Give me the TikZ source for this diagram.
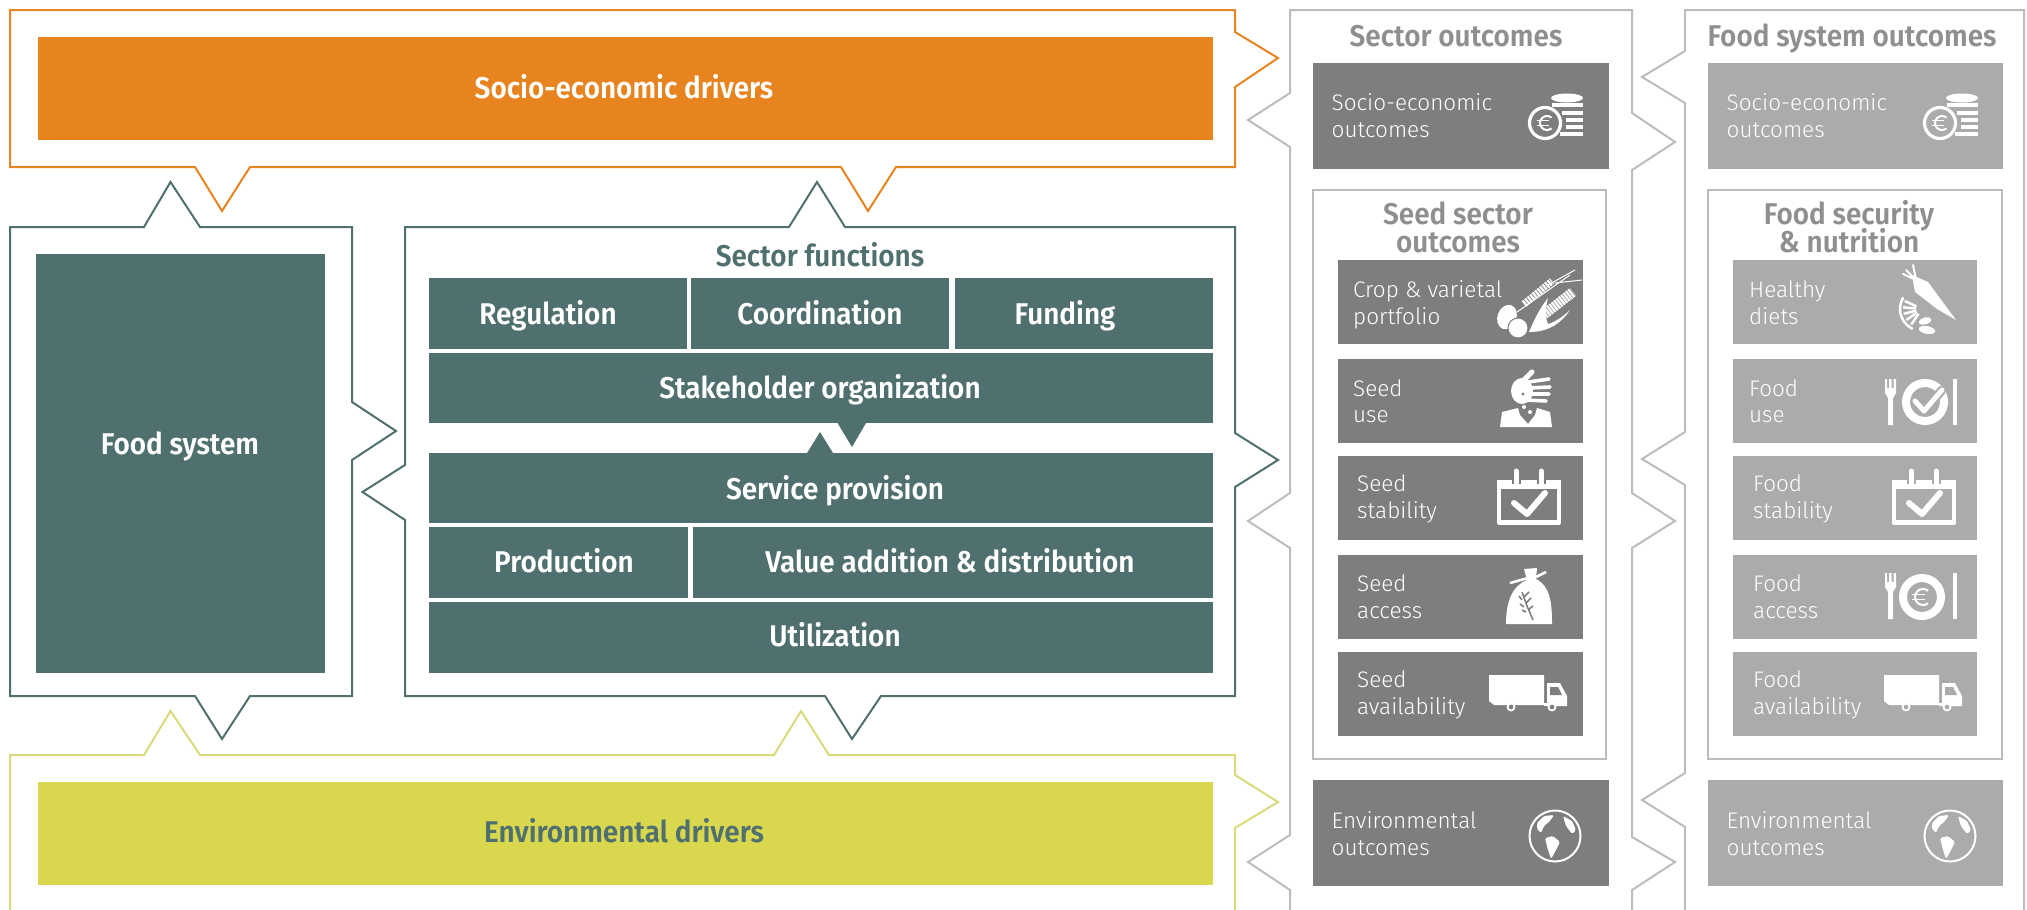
\documentclass[tikz,border=0pt]{standalone}
\usepackage{fontspec}
\setmainfont{Fira Sans}[UprightFont=* Light,BoldFont=* SemiBold,BoldFeatures={FakeStretch=0.93}]
\definecolor{cteal}{HTML}{4F706E}
\definecolor{corange}{HTML}{E8841F}
\definecolor{cyellow}{HTML}{D8D74E}
\definecolor{cyline}{HTML}{DADA7C}
\definecolor{cdark}{HTML}{7E7E7E}
\definecolor{clight}{HTML}{ABABAB}
\definecolor{cline}{HTML}{BCBCBC}
\definecolor{chead}{HTML}{8F8F8F}
\tikzset{
  outline/.style={line width=2pt,line join=miter,miter limit=10},
  box/.style={draw=none,inner sep=0pt,outer sep=0pt,rectangle},
  head/.style={font=\bfseries\fontsize{30}{30}\selectfont,anchor=base,yshift=-10pt,inner sep=0pt},
  subhead/.style={head,text=chead},
  itemtext/.style={font=\fontsize{22.5}{22.5}\selectfont,anchor=base west,yshift=-7.7pt,inner sep=0pt,text=white},
}
% name, fill, x1, y1, x2, y2
\newcommand{\rectnode}[6]{%
  \pgfmathsetmacro\cxx{(#3+#5)/2}\pgfmathsetmacro\cyy{(#4+#6)/2}%
  \node[box,fill=#2,minimum width={(#5-#3)*1pt},minimum height={(#6-#4)*1pt}] (#1) at (\cxx,\cyy) {};}
% centre x, centre y, radius
\newcommand{\myeuro}[3]{%
  \draw[white,line width=2pt] (#1,#2) ++(50:#3) arc[start angle=50,end angle=310,radius=#3];
  \draw[white,line width=1.6pt] (#1-#3-3,#2-2.5) -- (#1+#3*0.3,#2-2.5) (#1-#3-3,#2+2.5) -- (#1+#3*0.3,#2+2.5);}
\newcommand{\iconcoins}{%
  \draw[white,line width=3.2pt] (1545,123) circle[radius=15.5];
  \myeuro{1547}{123}{7}
  \fill[white] (1567,98) ellipse[x radius=16,y radius=4.5];
  \draw[white,line width=4pt] (1552,105) -- (1583,105) (1562,112.5) -- (1583,112.5) (1566,120) -- (1583,120) (1566,127) -- (1583,127) (1560,134) -- (1583,134);}
\newcommand{\iconcal}[1]{%
  \draw[white,line width=4.2pt,line join=round] (1499,482) rectangle (1559,522.5);
  \fill[white] (1497,480) rectangle (1561,489);
  \foreach \tx in {1516,1541}{\draw[#1,line width=9pt] (\tx,472) -- (\tx,484);
    \draw[white,line width=5pt,line cap=round] (\tx,471) -- (\tx,483);}
  \draw[white,line width=6pt,line cap=round,line join=round] (1514,503) -- (1527,514) -- (1545,493);}
\newcommand{\icontruck}[1]{%
  \fill[white] (1489,675) -- (1544,675) -- (1544,705) -- (1494,705) -- (1489,701) -- cycle;
  \fill[white] (1544,703) rectangle (1567,706);
  \fill[white] (1547,683) -- (1560,683) -- (1567,696) -- (1567,706) -- (1547,706) -- cycle;
  \fill[#1] (1550,687) -- (1558,687) -- (1562,695) -- (1550,695) -- cycle;
  \draw[white,line width=1.8pt,fill=#1] (1511,707) circle[radius=3.5] (1552,707) circle[radius=3.5];}
\newcommand{\iconglobe}{%
  \draw[white,line width=2pt] (1555,836) circle[radius=25.5];
  \fill[white,rounded corners=1.5pt] (1537,823) -- (1544,816) -- (1554,815) -- (1550,821) -- (1544,826) -- (1541,833) -- (1537,829) -- cycle;
  \fill[white,rounded corners=1.5pt] (1545,838) -- (1553,836) -- (1560,842) -- (1556,850) -- (1551,859) -- (1548,850) -- cycle;
  \fill[white,rounded corners=1.5pt] (1563,816) -- (1572,821) -- (1576,830) -- (1572,834) -- (1566,826) -- cycle;}
\newcommand{\iconfork}[1]{%
  \fill[white] (1885,#1) -- (1887,#1) -- (1887,#1+9) -- (1889,#1+9) -- (1889,#1) -- (1891.5,#1) -- (1891.5,#1+9) -- (1893.5,#1+9) -- (1893.5,#1) -- (1896,#1) -- (1896,#1+14) -- (1893,#1+19) -- (1893,#1+46) -- (1888,#1+46) -- (1888,#1+19) -- (1885,#1+14) -- cycle;
  \fill[white] (1953,#1) -- (1957,#1) -- (1957,#1+46) -- (1953,#1+46) -- cycle;}
\begin{document}
\begin{tikzpicture}[x=1pt,y=-1pt]
\useasboundingbox (0,0) rectangle (2027,910);
\fill[white] (0,0) rectangle (2027,910);
% ---- outlines
\draw[outline,corange] (10,10) -- (1235,10) -- (1235,32) -- (1278,58) -- (1235,87) -- (1235,167)
  -- (896,167) -- (868,211) -- (841,167) -- (250,167) -- (222,211) -- (195,167) -- (10,167) -- cycle;
\draw[outline,cteal] (10,227) -- (144,227) -- (170.5,182) -- (200,227) -- (352,227) -- (352,402) -- (396,431) -- (352,460)
  -- (352,696) -- (250,696) -- (222,739) -- (195,696) -- (10,696) -- cycle;
\draw[outline,cteal] (405,227) -- (789,227) -- (817,182) -- (845,227) -- (1235,227) -- (1235,433) -- (1278,460) -- (1235,487)
  -- (1235,696) -- (881,696) -- (852,739) -- (825,696) -- (405,696) -- (405,520) -- (362.5,492) -- (405,465) -- cycle;
\draw[outline,cyline] (10,910) -- (10,755) -- (144,755) -- (170.5,711) -- (200,755) -- (774,755) -- (801,711) -- (829,755)
  -- (1235,755) -- (1235,775) -- (1278,802) -- (1235,828) -- (1235,910);
\draw[outline,cline] (1290,910) -- (1290,890) -- (1248,862) -- (1290,835) -- (1290,548) -- (1248,521) -- (1290,493)
  -- (1290,147) -- (1248,120) -- (1290,93) -- (1290,10) -- (1632,10) -- (1632,113) -- (1675,142) -- (1632,170)
  -- (1632,493) -- (1675,521) -- (1632,548) -- (1632,837) -- (1675,862) -- (1632,890) -- (1632,910);
\draw[outline,cline] (1685,910) -- (1685,827) -- (1642,800) -- (1685,773) -- (1685,485) -- (1642,459) -- (1685,432)
  -- (1685,103) -- (1642,77) -- (1685,51) -- (1685,10) -- (2024,10) -- (2024,910);
\draw[outline,cline] (1313,190) rectangle (1606,759);
\draw[outline,cline] (1708,190) rectangle (2002,759);
% ---- main boxes
\rectnode{socio}{corange}{37.5}{36.7}{1212.5}{140}
\rectnode{foodsys}{cteal}{36}{254}{325}{673}
\rectnode{reg}{cteal}{428.5}{278}{687}{349}
\rectnode{coord}{cteal}{690.6}{278}{949}{349}
\rectnode{fund}{cteal}{954.5}{278}{1212.5}{349}
\rectnode{stake}{cteal}{428.5}{353}{1212.5}{423}
\rectnode{serv}{cteal}{428.5}{453}{1212.5}{523}
\rectnode{prod}{cteal}{428.5}{527}{687.5}{598}
\rectnode{valadd}{cteal}{693}{527}{1212.5}{598}
\rectnode{util}{cteal}{428.5}{602}{1212.5}{673}
\rectnode{envd}{cyellow}{37.5}{782}{1212.5}{885}
\fill[cteal] (837.5,423) -- (866,423) -- (852,447) -- cycle;
\fill[cteal] (807,453) -- (833,453) -- (820,432) -- cycle;
% ---- main labels
\node[head,text=white] (tsocio) at (624,88) {Socio-economic drivers};
\node[head,text=white] (tfood) at (180,444) {Food system};
\node[head,text=cteal] (tfunc) at (820,256) {Sector functions};
\node[head,text=white] (treg) at (548,314) {Regulation};
\node[head,text=white] (tcoord) at (820,314) {Coordination};
\node[head,text=white] (tfund) at (1065,314) {Funding};
\node[head,text=white] (tstake) at (820,388) {Stakeholder organization};
\node[head,text=white] (tserv) at (835,489) {Service provision};
\node[head,text=white] (tprod) at (564,562) {Production};
\node[head,text=white] (tval) at (950,562) {Value addition \& distribution};
\node[head,text=white] (tutil) at (835,636) {Utilization};
\node[head,text=cteal] (tenv) at (624,832) {Environmental drivers};
% ---- outcomes headers
\node[subhead] (tsec) at (1456,36) {Sector outcomes};
\node[subhead] (tfso) at (1852,36) {Food system outcomes};
\node[subhead] (tss1) at (1458,214) {Seed sector};
\node[subhead] (tss2) at (1458,242) {outcomes};
\node[subhead] (tfs1) at (1849,214) {Food security};
\node[subhead] (tfs2) at (1849,242) {\& nutrition};
% ---- sector outcome boxes
\rectnode{bsocio}{cdark}{1313}{63}{1609}{169}
\rectnode{benv}{cdark}{1313}{780}{1609}{886}
\rectnode{bcrop}{cdark}{1337.5}{260}{1583}{344}
\rectnode{buse}{cdark}{1337.5}{359}{1583}{443}
\rectnode{bstab}{cdark}{1337.5}{456}{1583}{540}
\rectnode{bacc}{cdark}{1337.5}{555}{1583}{639}
\rectnode{bavail}{cdark}{1337.5}{652}{1583}{736}
% ---- food outcome boxes
\rectnode{fsocio}{clight}{1708}{63}{2003}{169}
\rectnode{fenv}{clight}{1708}{780}{2003}{886}
\rectnode{fhealth}{clight}{1732.5}{260}{1977}{344}
\rectnode{fuse}{clight}{1732.5}{359}{1977}{443}
\rectnode{fstab}{clight}{1732.5}{456}{1977}{540}
\rectnode{facc}{clight}{1732.5}{555}{1977}{639}
\rectnode{favail}{clight}{1732.5}{652}{1977}{736}
% ---- item texts
\foreach \nm/\xa/\ya/\txt in {a/1331.5/103/Socio-economic,b/1331.5/130/outcomes,c/1331.5/821/Environmental,d/1331.5/848/outcomes,
  e/1353/290/Crop \& varietal,f/1353/317/portfolio,g/1353/389/Seed,h/1353/415/use,
  i/1357/484/Seed,j/1357/511/stability,k/1357/584/Seed,l/1357/611/access,m/1357/680/Seed,n/1357/707/availability,
  o/1726.5/103/Socio-economic,p/1726.5/130/outcomes,q/1726.5/821/Environmental,r/1726.5/848/outcomes,
  s/1749/290/Healthy,t/1749/317/diets,u/1749/389/Food,v/1749/415/use,
  w/1753/484/Food,x/1753/511/stability,y/1753/584/Food,z/1753/611/access,aa/1753/680/Food,ab/1753/707/availability}
  {\node[itemtext] (item\nm) at (\xa,\ya) {\txt};}
% ---- icons
\iconcoins \iconcal{cdark} \icontruck{cdark} \iconglobe
\begin{scope}[shift={(395,0)}]
\iconcoins \iconcal{clight} \icontruck{clight} \iconglobe
\end{scope}
% crops
\fill[white,rotate around={-20:(1507,317)}] (1507,317) ellipse[x radius=9.5,y radius=12.5];
\draw[cdark,line width=1pt,fill=white] (1518,328) ellipse[x radius=10,y radius=10];
\draw[white,line width=1pt] (1517,312) -- (1570,275) (1548,285) -- (1575,270) (1555,283) -- (1582,280);
\draw[white,line width=7pt,dash pattern=on 2.2pt off 1pt] (1524,304) -- (1552,281);
\draw[white,line width=10pt,dash pattern=on 2.2pt off .8pt] (1542,316) -- (1573,292);
\fill[white] (1529,332) .. controls (1535,318) and (1540,308) .. (1548,298) .. controls (1545,310) and (1545,318) .. (1548,324) .. controls (1556,322) and (1566,314) .. (1570,310) .. controls (1562,322) and (1550,332) .. (1529,332) -- cycle;
% hand and person
\fill[white] (1522,391) ellipse[x radius=11,y radius=13];
\draw[white,line width=5pt,line cap=round] (1522,382) -- (1532,372);
\draw[white,line width=3.6pt,line cap=round] (1528,382) -- (1549,379) (1528,388) -- (1550,387) (1528,394) -- (1549,394) (1526,400) -- (1546,401);
\fill[cdark] (1523,394) circle[radius=1.7];
\fill[white] (1500,427) -- (1502,412) -- (1518,408) -- (1520,415) -- (1528,424) -- (1535,415) -- (1537,408) -- (1550,412) -- (1552,427) -- cycle;
\fill[white] (1524,407) circle[radius=2] (1530,412) circle[radius=2];
% sack
\fill[white] (1506,624) .. controls (1506,602) and (1512,586) .. (1527,580) -- (1524,569) -- (1537,568) -- (1536,579) .. controls (1550,586) and (1552,602) .. (1552,624) -- cycle;
\draw[white,line width=2.5pt] (1528,578) -- (1510,583) (1536,577) -- (1546,572);
\draw[cdark,line width=1.6pt] (1522,592) -- (1527,606) -- (1533,620) (1524,597) -- (1529,592) (1522,600) -- (1519,596) (1526,603) -- (1531,598) (1524,607) -- (1520,604) (1528,610) -- (1533,606) (1526,612) -- (1522,610);
% healthy diets
\fill[white] (1912,275) -- (1915,292) -- (1937,309) -- (1956,320) -- (1928,282) -- cycle;
\draw[white,line width=2pt,line cap=round] (1916,280) -- (1903,274) (1916,280) -- (1913,265) (1916,280) -- (1906,270);
\draw[white,line width=2.5pt] (1922,309) ++(115:22) arc[start angle=115,end angle=212,radius=22];
\foreach \ang in {125,145,165,185,205}{\draw[white,line width=2.5pt] (1922,309) ++(\ang:6) -- ++(\ang:13);}
\draw[clight,line width=1pt,fill=white,rotate around={15:(1925,321)}] (1925,321) ellipse[x radius=7,y radius=4];
\draw[clight,line width=1pt,fill=white,rotate around={-10:(1927,330)}] (1927,330) ellipse[x radius=9,y radius=4.5];
% food use
\iconfork{379}
\draw[white,line width=8pt] (1925,402) circle[radius=19];
\draw[clight,line width=9pt,line cap=round,line join=round] (1915,401) -- (1924,411) -- (1942,390);
\draw[white,line width=5pt,line cap=round,line join=round] (1915,401) -- (1924,411) -- (1942,390);
% food access
\iconfork{573}
\draw[white,line width=8pt] (1922,597) circle[radius=19];
\myeuro{1923}{597}{8}
\end{tikzpicture}
\end{document}
